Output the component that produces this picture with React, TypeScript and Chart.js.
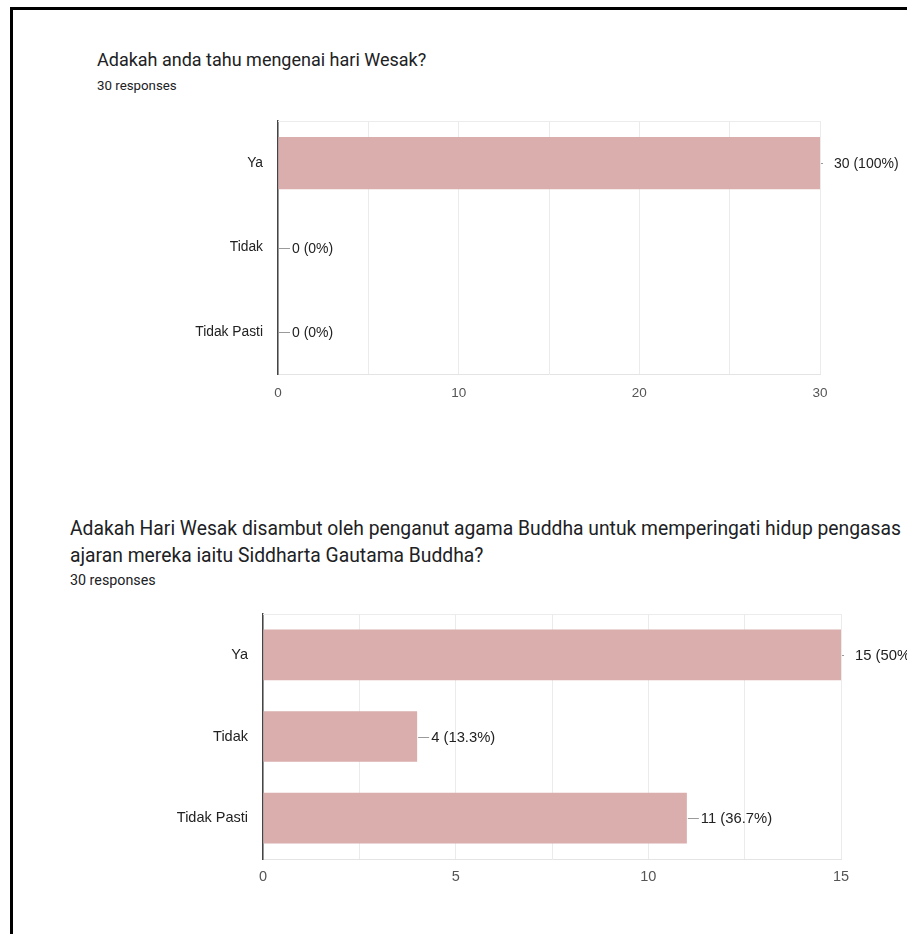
import React, { useEffect, useRef } from "react";
import { Chart, registerables } from "chart.js";

Chart.register(...registerables);

// ---- data ----
const categories = ["Ya", "Tidak", "Tidak Pasti"];
const q1Title = "Adakah anda tahu mengenai hari Wesak?";
const q1Values = [30, 0, 0];
const q1Max = 30;
const q1Step = 5;
const q1LabelEvery = 10;

const q2TitleLines = [
  "Adakah Hari Wesak disambut oleh penganut agama Buddha untuk memperingati hidup pengasas",
  "ajaran mereka iaitu Siddharta Gautama Buddha?",
];
const q2Values = [15, 4, 11];
const q2Max = 15;
const q2Step = 2.5;
const q2LabelEvery = 5;

const responses = 30;
const responsesText = "30 responses";

const BAR_COLOR = "#d9aeac";
const LABEL_FONT = '"Liberation Sans", Arial, sans-serif';

function pctLabel(v: number, total: number) {
  const p = Math.round((v / total) * 1000) / 10;
  return `${v} (${p}%)`;
}

const valueLabels = {
  id: "valueLabels",
  afterDatasetsDraw(chart: any, _args: any, opts: any) {
    const ctx = chart.ctx;
    const meta = chart.getDatasetMeta(0);
    const data = chart.data.datasets[0].data as number[];
    const area = chart.chartArea;
    ctx.save();
    ctx.font = `${opts.size || 14}px ${LABEL_FONT}`;
    ctx.textBaseline = "middle";
    ctx.textAlign = "left";
    meta.data.forEach((bar: any, i: number) => {
      const x = bar.x;
      const y = Math.round(bar.y);
      const atEnd = x >= area.right - 1;
      ctx.strokeStyle = "#9a9a9a";
      ctx.lineWidth = 1;
      ctx.beginPath();
      ctx.moveTo(x + 1, y + 0.5);
      ctx.lineTo(x + (atEnd ? 3 : 12), y + 0.5);
      ctx.stroke();
      ctx.fillStyle = "#222";
      ctx.fillText(pctLabel(data[i], responses), x + 14, y + 1);
    });
    ctx.restore();
  },
};

const topLine = {
  id: "topLine",
  beforeDatasetsDraw(chart: any) {
    const ctx = chart.ctx;
    const a = chart.chartArea;
    ctx.save();
    ctx.strokeStyle = "#ececec";
    ctx.lineWidth = 1;
    ctx.beginPath();
    ctx.moveTo(a.left, a.top + 0.5);
    ctx.lineTo(a.right, a.top + 0.5);
    ctx.stroke();
    ctx.restore();
  },
};

type BarProps = {
  values: number[];
  max: number;
  step: number;
  labelEvery: number;
  top: number;
  height: number;
  plotLeft: number;
  plotRight: number;
  plotTop: number;
  plotBottom: number;
  catSize: number;
  tickSize: number;
  valueSize: number;
  tickPad: number;
};

function BarChart(p: BarProps) {
  const ref = useRef<HTMLCanvasElement | null>(null);
  useEffect(() => {
    if (!ref.current) return;
    const W = 907;
    const chart = new Chart(ref.current, {
      type: "bar",
      data: {
        labels: categories,
        datasets: [
          {
            data: p.values,
            backgroundColor: BAR_COLOR,
            borderWidth: 0,
            categoryPercentage: 1,
            barPercentage: 0.62,
          },
        ],
      },
      options: {
        indexAxis: "y",
        responsive: false,
        animation: false,
        events: [],
        layout: {
          padding: { left: 0, right: W - p.plotRight, top: p.plotTop, bottom: 0 },
        },
        plugins: {
          legend: { display: false },
          tooltip: { enabled: false },
          valueLabels: { size: p.valueSize },
        },
        scales: {
          x: {
            min: 0,
            max: p.max,
            afterFit: (s: any) => {
              s.height = p.height - p.plotBottom;
              s.paddingLeft = 0;
              s.paddingRight = 0;
            },
            ticks: {
              stepSize: p.step,
              autoSkip: false,
              maxRotation: 0,
              padding: p.tickPad,
              color: "#555",
              font: { family: LABEL_FONT, size: p.tickSize },
              callback: (v: any) => (Math.abs(v % p.labelEvery) < 1e-9 ? String(v) : ""),
            },
            grid: { color: "#ebebeb", drawTicks: false },
            border: { display: true, color: "#e4e4e4" },
          },
          y: {
            afterFit: (s: any) => {
              s.width = p.plotLeft;
              s.paddingTop = 0;
              s.paddingBottom = 0;
            },
            ticks: {
              padding: 15,
              color: "#222",
              font: { family: LABEL_FONT, size: p.catSize },
            },
            grid: { display: false, drawTicks: false },
            border: { display: true, color: "#444", width: 1.5 },
          },
        },
      },
      plugins: [topLine, valueLabels],
    } as any);
    return () => chart.destroy();
  }, []);
  return (
    <canvas
      ref={ref}
      width={907}
      height={p.height}
      style={{ position: "absolute", left: 0, top: p.top, width: 907, height: p.height }}
    />
  );
}

export default function App() {
  const base: React.CSSProperties = {
    position: "absolute",
    fontFamily: "Roboto, sans-serif",
    color: "#202124",
    whiteSpace: "nowrap",
  };
  return (
    <div
      style={{
        position: "absolute",
        left: 0,
        top: 0,
        width: 907,
        height: 934,
        background: "#fff",
        overflow: "hidden",
      }}
    >
      <div
        style={{
          position: "absolute",
          left: 10,
          top: 7,
          width: 960,
          height: 960,
          borderTop: "3px solid #000",
          borderLeft: "3px solid #000",
        }}
      />
      <div style={{ ...base, fontSize: 18, lineHeight: "24px", left: 97, top: 48 }}>{q1Title}</div>
      <div style={{ ...base, fontSize: 13.3, lineHeight: "20px", left: 97, top: 76 }}>{responsesText}</div>
      <BarChart
        values={q1Values}
        max={q1Max}
        step={q1Step}
        labelEvery={q1LabelEvery}
        top={110}
        height={300}
        plotLeft={278}
        plotRight={820}
        plotTop={11}
        plotBottom={264}
        catSize={13.8}
        tickSize={13.5}
        valueSize={14}
        tickPad={11}
      />
      <div style={{ ...base, fontSize: 19.3, lineHeight: "27px", left: 70, top: 515 }}>{q2TitleLines[0]}</div>
      <div style={{ ...base, fontSize: 19.3, lineHeight: "27px", left: 70, top: 542 }}>{q2TitleLines[1]}</div>
      <div style={{ ...base, fontSize: 14.3, lineHeight: "20px", left: 70, top: 570 }}>{responsesText}</div>
      <BarChart
        values={q2Values}
        max={q2Max}
        step={q2Step}
        labelEvery={q2LabelEvery}
        top={600}
        height={300}
        plotLeft={263}
        plotRight={841}
        plotTop={14}
        plotBottom={259}
        catSize={14.5}
        tickSize={14.5}
        valueSize={14.8}
        tickPad={9}
      />
    </div>
  );
}
